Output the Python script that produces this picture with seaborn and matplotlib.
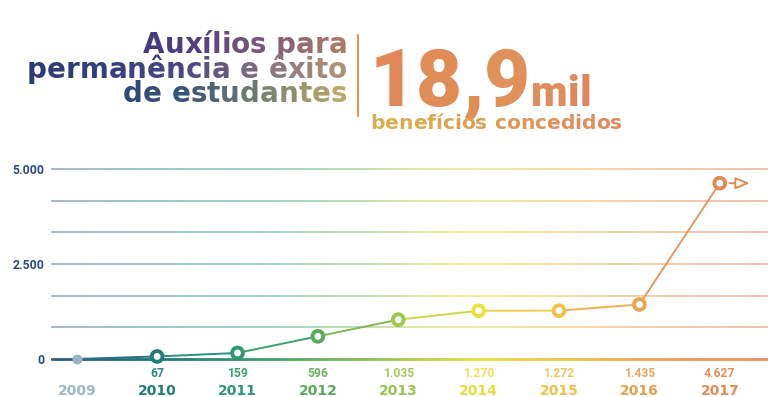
import numpy as np
import pandas as pd
import seaborn as sns
import matplotlib.pyplot as plt
from matplotlib.collections import LineCollection
from matplotlib.colors import LinearSegmentedColormap
from matplotlib.font_manager import FontProperties, findfont, get_font
from matplotlib.lines import Line2D
from matplotlib.textpath import text_to_path

# dados do gráfico
anos = [2009, 2010, 2011, 2012, 2013, 2014, 2015, 2016, 2017]
beneficios = [0, 67, 159, 596, 1035, 1270, 1272, 1435, 4627]
rotulos_valor = ['', '67', '159', '596', '1.035', '1.270', '1.272', '1.435', '4.627']
rotulos_ano = [str(a) for a in anos]
ticks_y = [0, 2500, 5000]
rotulos_y = ['0', '2.500', '5.000']
titulo = ['Auxílios para', 'permanência e êxito', 'de estudantes']
total = '18,9'
unidade = 'mil'
subtitulo = 'benefícios concedidos'

# cores por ano
cor_ponto = ['#9ab4c4', '#1e8078', '#2e9a72', '#5aaa5c', '#9cc850',
             '#ece040', '#f0c24a', '#eaa552', '#e08a55']
cor_ano = ['#9ab8c8', '#1e7f78', '#2a9870', '#58a858', '#98c450',
           '#e8dc40', '#f0c048', '#e8a050', '#e08c55']
cor_valor = ['#9ab8c8', '#2a8a80', '#3aa070', '#6ab060', '#a8c860',
             '#f0e060', '#f0c860', '#eaa860', '#e09060']
cor_linha = ['#2a6e84', '#2a9080', '#3aa070', '#80b858', '#d0d84a',
             '#f0d050', '#eeb055', '#e6985a']

W, H, DPI = 768, 397, 100

sns.set_theme(style='white')
plt.rcParams['font.family'] = ['DejaVu Sans']

fig = plt.figure(figsize=(W / DPI, H / DPI), dpi=DPI)
ax = fig.add_axes([51 / W, (H - 365) / H, 717 / W, 205 / H])
ax.set_xlim(2008.68, 2017.6)
ax.set_ylim(-158, 5237)

# linhas de grade em degradê
xs = np.linspace(0, 1, 240)
meio = (xs[:-1] + xs[1:]) / 2
cmap_grade = LinearSegmentedColormap.from_list('grade', [
    '#a0b4c8', '#98c0c8', '#98d0c0', '#b8dcb0', '#f0ec90', '#f4dc98', '#f0c8a8', '#eebca8'])
cmap_zero = LinearSegmentedColormap.from_list('zero', [
    (0, '#2e5a82'), (0.15, '#1e7a7a'), (0.3, '#40a070'), (0.45, '#90c050'),
    (0.6, '#e8e040'), (0.72, '#f0c048'), (0.85, '#eca058'), (1, '#e89060')])
for nivel in np.linspace(0, 5000, 7):
    segs = [[(xs[i], nivel), (xs[i + 1], nivel)] for i in range(len(xs) - 1)]
    cm = cmap_zero if nivel == 0 else cmap_grade
    lc = LineCollection(segs, colors=cm(meio), linewidths=1.8 if nivel == 0 else 1.2,
                        transform=ax.get_yaxis_transform(), zorder=1, capstyle='projecting')
    ax.add_collection(lc, autolim=False)

# linha da série, um trecho por ano
for i in range(len(anos) - 1):
    sns.lineplot(x=anos[i:i + 2], y=beneficios[i:i + 2], color=cor_linha[i],
                 linewidth=1.4, ax=ax, zorder=2)

# pontos
sns.scatterplot(x=anos[:1], y=beneficios[:1], color=cor_ponto[0], s=52,
                linewidth=0, ax=ax, zorder=3)
sns.scatterplot(x=anos[1:], y=beneficios[1:], color='white', edgecolor=cor_ponto[1:],
                s=60, linewidth=2.8, ax=ax, zorder=4)

# seta final
ax.annotate('', xy=(anos[-1] + 0.37, beneficios[-1]), xytext=(anos[-1], beneficios[-1]),
            arrowprops=dict(arrowstyle='-|>,head_length=0.7,head_width=0.3', fc='white',
                            ec=cor_ponto[-1], lw=1.4, shrinkA=7, shrinkB=0), zorder=4)

# rótulos de valor e de ano
for a, rv, ra, cv, ca in zip(anos, rotulos_valor, rotulos_ano, cor_valor, cor_ano):
    ax.annotate(rv, xy=(a, 0), xytext=(0, -15), textcoords='offset pixels', ha='center',
                va='center', fontsize=8.7, color=cv, fontweight='semibold',
                family=['Roboto', 'DejaVu Sans'], annotation_clip=False)
    ax.annotate(ra, xy=(a, 0), xytext=(0, -32), textcoords='offset pixels', ha='center',
                va='center', fontsize=10, color=ca, fontweight='bold', annotation_clip=False)

ax.set_xticks([])
ax.set_yticks(ticks_y, rotulos_y)
ax.tick_params(axis='y', length=0, pad=4.5, labelsize=8.8, labelcolor='#2e4a7a')
for t in ax.get_yticklabels():
    t.set_fontweight('bold')
    t.set_fontfamily(['Roboto', 'DejaVu Sans'])
ax.grid(False)
sns.despine(ax=ax, left=True, bottom=True)


# texto com degradê: uma letra por vez
def avancos(s, prop):
    fonte = get_font(findfont(prop))
    fonte.set_size(100, 72)
    glifos = text_to_path.get_glyphs_with_font(fonte, s + ' ')[0]
    esc = prop.get_size_in_points() / 100 * DPI / 72
    return [g[1] * esc for g in glifos]


def tamanho_para(s, largura, familia, peso):
    p = FontProperties(family=familia, weight=peso, size=20)
    return 20 * largura / avancos(s, p)[-1]


def texto_degrade(s, x, y, prop, cores, x0, x1, ha='left'):
    pos = avancos(s, prop)
    esq = x - pos[-1] if ha == 'right' else x
    cmap = LinearSegmentedColormap.from_list('t', cores)
    for i, ch in enumerate(s):
        if ch == ' ':
            continue
        xc = esq + (pos[i] + pos[i + 1]) / 2
        f = float(np.clip((xc - x0) / (x1 - x0), 0, 1))
        fig.text((esq + pos[i]) / W, 1 - y / H, ch, fontproperties=prop, color=cmap(f),
                 ha='left', va='baseline')


tam_titulo = tamanho_para(titulo[1], 320, 'DejaVu Sans', 'bold')
prop_titulo = FontProperties(family='DejaVu Sans', weight='bold', size=tam_titulo)
cores_titulo = [
    ['#38327f', '#423684', '#4e3d84', '#7c5a7a', '#b07c68'],
    ['#2a3a78', '#34407e', '#4a4880', '#8a7080', '#b09478'],
    ['#243e78', '#2a4478', '#3a5476', '#7a8270', '#c0ac6c'],
]
for linha, base, cores in zip(titulo, [53, 77.5, 102], cores_titulo):
    texto_degrade(linha, 347, base, prop_titulo, cores, 27, 346, ha='right')

fig.add_artist(Line2D([358 / W, 358 / W], [1 - 35 / H, 1 - 116 / H], color='#d89a6c', lw=1.6))

prop_total = FontProperties(family='Roboto', weight='black',
                            size=tamanho_para(total, 160, 'Roboto', 'black'))
texto_degrade(total, 370, 106, prop_total, ['#e2865a', '#e08d56', '#e0925a'], 372, 530)
prop_unid = FontProperties(family='Roboto', weight='black',
                           size=tamanho_para(unidade, 60, 'Roboto', 'black'))
texto_degrade(unidade, 531, 106, prop_unid, ['#e0905c', '#e08660'], 532, 590)
prop_sub = FontProperties(family='DejaVu Sans', weight='bold',
                          size=tamanho_para(subtitulo, 252, 'DejaVu Sans', 'bold'))
texto_degrade(subtitulo, 370, 129, prop_sub, ['#d4b250', '#daa454', '#e0945a', '#e08a5e'], 370, 620)

fig.savefig('out.png', dpi=DPI)
